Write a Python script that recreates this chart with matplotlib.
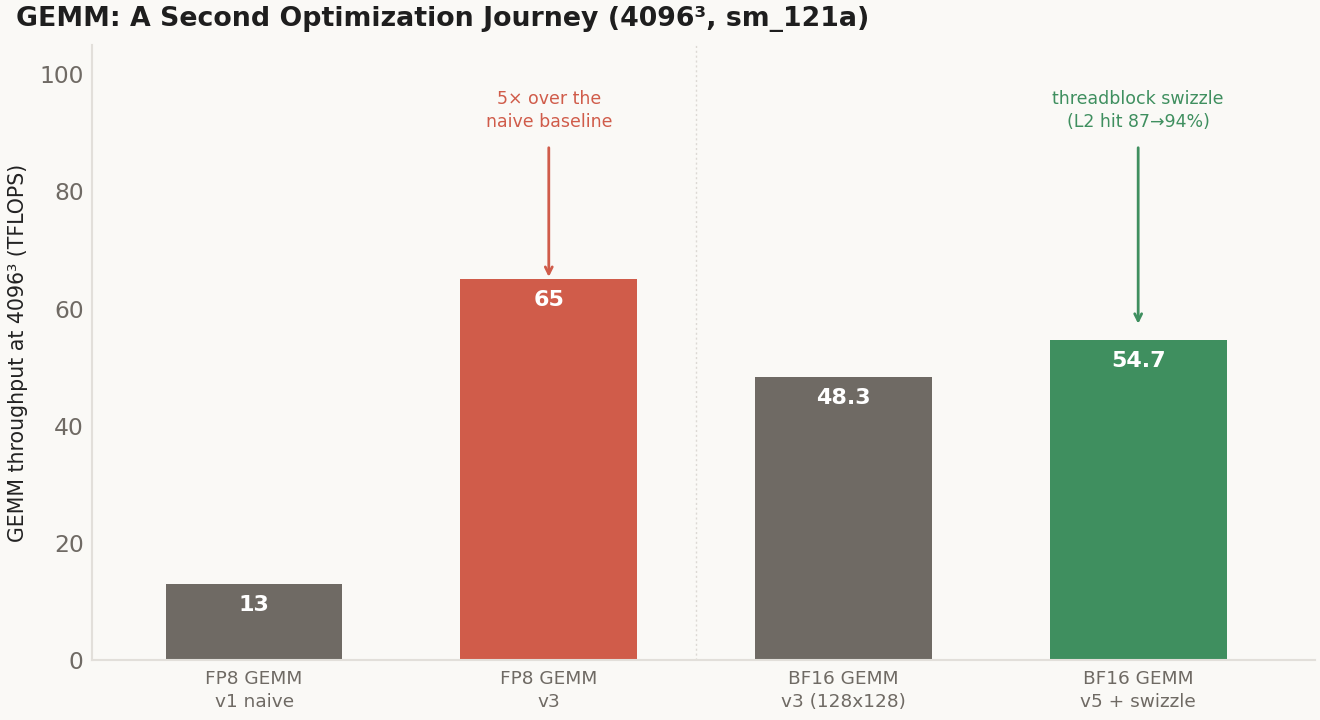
import matplotlib
matplotlib.use("Agg")
import matplotlib.pyplot as plt

categories = ["FP8 GEMM\nv1 naive", "FP8 GEMM\nv3", "BF16 GEMM\nv3 (128x128)", "BF16 GEMM\nv5 + swizzle"]
values = [13, 65, 48.3, 54.7]
value_labels = ["13", "65", "48.3", "54.7"]
colors = ["#6f6a64", "#d05c4a", "#6f6a64", "#3f8f5f"]
yticks = [0, 20, 40, 60, 80, 100]

BG = "#faf9f6"
fig = plt.figure(figsize=(13.2, 7.2), dpi=100, facecolor=BG)
ax = fig.add_axes([92/1320, 60/720, (1315-92)/1320, (660-45)/720])
ax.set_facecolor(BG)

x = list(range(len(categories)))
ax.bar(x, values, width=0.6, color=colors, zorder=2)
for xi, v, lab in zip(x, values, value_labels):
    ax.text(xi, v - 3.6, lab, ha="center", va="center", color="white",
            fontsize=16, fontweight="bold", zorder=3)

ax.axvline(1.5, color="#dcd9d4", linestyle=(0, (1.5, 2)), linewidth=1.0, zorder=1)

ax.annotate("5× over the\nnaive baseline", xy=(1, 65.4), xytext=(1, 93.8),
            ha="center", va="center", color="#d05c4a", fontsize=12.5, linespacing=1.35,
            arrowprops=dict(arrowstyle="->", color="#d05c4a", lw=2.0,
                            shrinkA=10, shrinkB=0))
ax.annotate("threadblock swizzle\n(L2 hit 87→94%)", xy=(3, 57.4), xytext=(3, 93.8),
            ha="center", va="center", color="#3f8f5f", fontsize=12.5, linespacing=1.35,
            arrowprops=dict(arrowstyle="->", color="#3f8f5f", lw=2.0,
                            shrinkA=10, shrinkB=0))

ax.set_xlim(-0.55, 3.6)
ax.set_ylim(0, 105)
ax.set_xticks(x)
ax.set_xticklabels(categories, fontsize=13.3, color="#6f6a64", linespacing=1.35)
ax.set_yticks(yticks)
ax.set_yticklabels([str(t) for t in yticks], fontsize=16.8, color="#6f6a64")
ax.tick_params(axis="x", length=0, pad=7)
ax.tick_params(axis="y", length=0, pad=6)
for s in ["top", "right"]:
    ax.spines[s].set_visible(False)
for s in ["left", "bottom"]:
    ax.spines[s].set_color("#e2dfda")
    ax.spines[s].set_linewidth(1.5)

ax.set_ylabel("GEMM throughput at 4096³ (TFLOPS)", fontsize=14.8, color="#222222", labelpad=8)
fig.text(16/1320, 1 - 19/720, "GEMM: A Second Optimization Journey (4096³, sm_121a)",
         fontsize=19.3, fontweight="bold", color="#1e1e1e", ha="left", va="center")

fig.savefig("out.png", dpi=100, facecolor=BG)
